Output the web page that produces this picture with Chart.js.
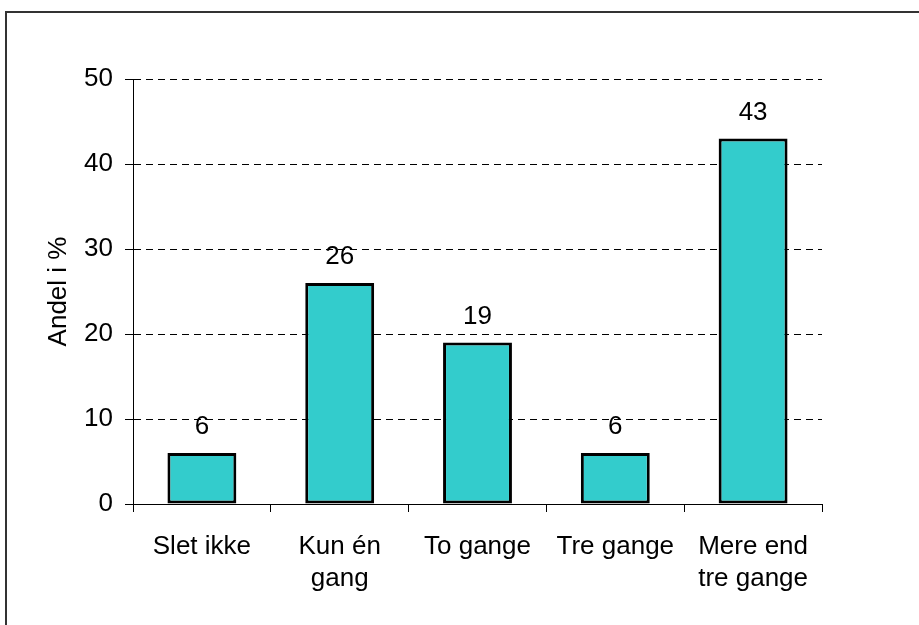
<!DOCTYPE html>
<html>
<head>
<meta charset="utf-8">
<script src="https://cdn.jsdelivr.net/npm/chart.js@4/dist/chart.umd.min.js"></script>
<style>
  html, body { margin: 0; padding: 0; background: #ffffff; }
  canvas { display: block; }
</style>
</head>
<body>
<canvas id="c" width="919" height="625"></canvas>
<script>
const categories = [["Slet ikke"], ["Kun én", "gang"], ["To gange"], ["Tre gange"], ["Mere end", "tre gange"]];
const values = [6, 26, 19, 6, 43];
const yTicks = [0, 10, 20, 30, 40, 50];
const yTitle = "Andel i %";

const FONT = "'Liberation Sans', Arial, sans-serif";

const framePlugin = {
  id: 'frame',
  beforeDraw(chart) {
    const ctx = chart.ctx;
    ctx.save();
    ctx.fillStyle = '#ffffff';
    ctx.fillRect(0, 0, chart.width, chart.height);
    ctx.strokeStyle = '#333333';
    ctx.lineWidth = 2;
    ctx.beginPath();
    ctx.moveTo(6, chart.height + 5);
    ctx.lineTo(6, 12);
    ctx.lineTo(chart.width + 5, 12);
    ctx.stroke();
    ctx.restore();
  }
};

const labelPlugin = {
  id: 'valueLabels',
  afterDatasetsDraw(chart) {
    const ctx = chart.ctx;
    const meta = chart.getDatasetMeta(0);
    ctx.save();
    ctx.font = '26px ' + FONT;
    ctx.fillStyle = '#000000';
    ctx.textAlign = 'center';
    ctx.textBaseline = 'alphabetic';
    meta.data.forEach((bar, i) => {
      ctx.fillText(String(chart.data.datasets[0].data[i]), bar.x, bar.y - 19);
    });
    ctx.restore();
  }
};

new Chart(document.getElementById('c'), {
  type: 'bar',
  data: {
    labels: categories,
    datasets: [{
      data: values,
      backgroundColor: '#33CCCC',
      borderColor: '#000000',
      borderWidth: 3,
      borderSkipped: false,
      categoryPercentage: 1.0,
      barPercentage: 0.5
    }]
  },
  options: {
    responsive: false,
    animation: false,
    devicePixelRatio: 1,
    layout: { padding: { left: 0, top: 79, right: 97, bottom: 0 } },
    plugins: {
      legend: { display: false },
      tooltip: { enabled: false },
      title: { display: false }
    },
    scales: {
      x: {
        grid: {
          display: true,
          offset: true,
          drawOnChartArea: false,
          drawTicks: true,
          tickLength: 8,
          tickColor: '#000000',
          tickWidth: 1
        },
        border: { display: true, color: '#000000', width: 1 },
        ticks: {
          color: '#000000',
          font: { family: FONT, size: 26, lineHeight: 1.23 },
          padding: 19,
          maxRotation: 0,
          autoSkip: false
        },
        afterFit(scale) { scale.height = 121; }
      },
      y: {
        min: 0,
        max: 50,
        afterBuildTicks(scale) { scale.ticks = yTicks.map(v => ({ value: v })); },
        grid: {
          color: '#000000',
          lineWidth: 1,
          drawTicks: true,
          tickLength: 8,
          tickColor: '#000000',
          tickWidth: 1,
          tickBorderDash: []
        },
        border: { display: true, color: '#000000', width: 1, dash: [7, 5] },
        ticks: {
          color: '#000000',
          font: { family: FONT, size: 26 },
          padding: 12
        },
        title: {
          display: true,
          text: yTitle,
          color: '#000000',
          font: { family: FONT, size: 26, lineHeight: 1.2 },
          padding: { top: 43, bottom: 0 }
        },
        afterFit(scale) { scale.width = 133; }
      }
    }
  },
  plugins: [framePlugin, labelPlugin]
});
</script>
</body>
</html>
